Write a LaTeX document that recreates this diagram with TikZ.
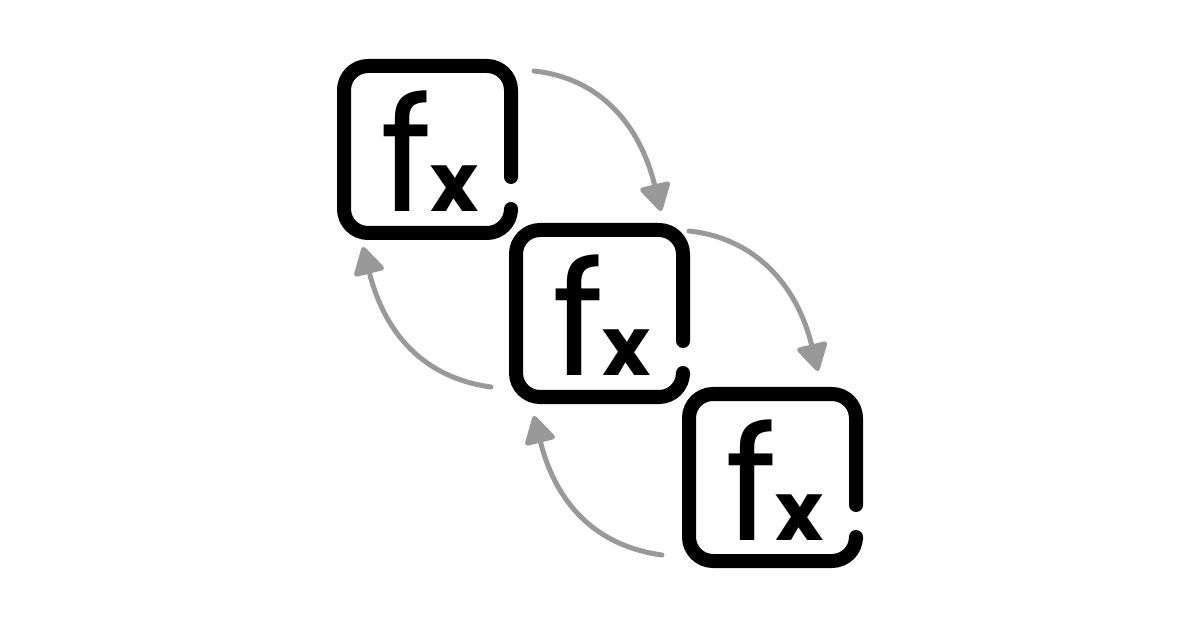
\documentclass[tikz,border=0pt]{standalone}
\usepackage{fontspec}
\setmainfont{Poppins}
\usetikzlibrary{arrows.meta}
\definecolor{arrowgray}{HTML}{999999}
\tikzset{
  boxline/.style={draw=black,line width=14pt,line cap=round,line join=round,rounded corners=24pt},
  fxlabel/.style={inner sep=0pt,outer sep=0pt,anchor=base west,text=black},
  cycarrow/.style={draw=arrowgray,line width=5pt,line cap=round,
    -{Triangle[round,length=30pt,width=33pt,fill=arrowgray]}}
}
\begin{document}
\begin{tikzpicture}[x=1pt,y=-1pt]
  \useasboundingbox (0,0) rectangle (1200,628);
  % boxes, each with its gap on the right
  \foreach \n/\px/\py in {1/344/66,2/516/230,3/689/394}{
    \begin{scope}[shift={(\px,\py)}]
      \draw[boxline] (167,111) -- (167,0) -- (0,0) -- (0,167) -- (167,167) -- (167,145);
      \node[fxlabel] (fx\n) at (36,146)
        {\fontsize{158}{158}\selectfont f\hspace{-1pt}{\fontsize{82}{82}\selectfont\bfseries x}};
    \end{scope}
  }
  % free ends of the arrows
  \coordinate (from1) at (534,71);
  \coordinate (to1) at (661,211);
  \coordinate (from2) at (689,231);
  \coordinate (to2) at (818,371);
  \coordinate (from3) at (491,387);
  \coordinate (to3) at (363,247);
  \coordinate (from4) at (662,555);
  \coordinate (to4) at (534,416);
  % forward
  \draw[cycarrow] (from1) .. controls (600,78) and (640,125) .. (to1);
  \draw[cycarrow] (from2) .. controls (755,238) and (797,285) .. (to2);
  % back
  \draw[cycarrow] (from3) .. controls (425,378) and (385,335) .. (to3);
  \draw[cycarrow] (from4) .. controls (596,546) and (556,504) .. (to4);
\end{tikzpicture}
\end{document}
